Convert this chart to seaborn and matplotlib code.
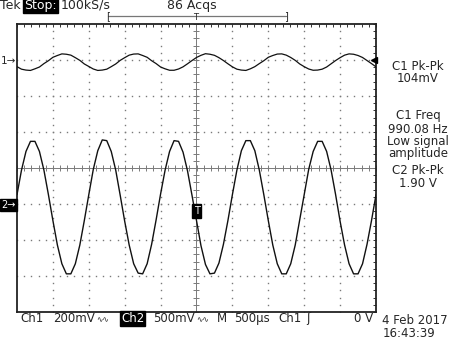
import numpy as np
import pandas as pd
import matplotlib
matplotlib.use("Agg")
import matplotlib.pyplot as plt
from matplotlib.lines import Line2D
import seaborn as sns

# scope capture: one point every 62.5 us, screen spans -2.5 .. 2.5 ms
sample_us = 62.5

# Ch1 (mV)
ch1_mv = [-37, -51, -56, -58, -49, -39, -20, -4, 15, 25, 34, 32, 27, 13, -2, -22,
          -36, -50, -58, -56, -51, -37, -22, -2, 13, 27, 33, 34, 25, 15, -4, -20,
          -39, -49, -57, -57, -50, -38, -21, -3, 14, 26, 35, 32, 26, 13, -3, -21,
          -38, -51, -56, -58, -49, -37, -20, -4, 15, 25, 33, 34, 27, 14, -2, -22,
          -37, -50, -57, -56, -51, -39, -21, -3, 13, 27, 34, 32, 25, 14, -3, -20,
          -38]

# Ch2 (V)
ch2_v = [0.13, 0.47, 0.73, 0.87, 0.87, 0.73, 0.47, 0.13, -0.23, -0.57, -0.83, -0.97, -0.97, -0.83, -0.57, -0.23,
         0.13, 0.48, 0.74, 0.89, 0.88, 0.73, 0.47, 0.12, -0.24, -0.57, -0.83, -0.96, -0.97, -0.83, -0.56, -0.22,
         0.14, 0.47, 0.73, 0.88, 0.87, 0.72, 0.46, 0.12, -0.23, -0.58, -0.84, -0.97, -0.96, -0.82, -0.56, -0.23,
         0.13, 0.47, 0.74, 0.88, 0.88, 0.74, 0.47, 0.13, -0.23, -0.57, -0.83, -0.97, -0.97, -0.83, -0.57, -0.22,
         0.13, 0.48, 0.73, 0.87, 0.87, 0.73, 0.47, 0.13, -0.24, -0.57, -0.83, -0.97, -0.97, -0.83, -0.56, -0.23,
         0.13]

ch1_mv_per_div = 200
ch2_v_per_div = 0.5
ch1_ground_div = 3
ch2_ground_div = -1

measure_lines = ["C1 Pk-Pk", "104mV", "C1 Freq", "990.08 Hz", "Low signal",
                 "amplitude", "C2 Pk-Pk", "1.90 V"]

t_ms = -2.5 + np.arange(len(ch2_v)) * sample_us / 1000.0
df = pd.DataFrame({
    "t": t_ms,
    "ch1": ch1_ground_div + np.array(ch1_mv) / ch1_mv_per_div,
    "ch2": ch2_ground_div + np.array(ch2_v) / ch2_v_per_div,
})

sns.set_style("white")
plt.rcParams["font.family"] = ["DejaVu Sans"]

W, H = 458, 345
fig = plt.figure(figsize=(W / 100, H / 100), dpi=100)
fig.patch.set_facecolor("white")
ax = fig.add_axes([17 / W, 33 / H, 359 / W, 288 / H])


def fx(x):
    return x / W


def fy(y):
    return 1 - y / H


grid_col = "#7a7a7a"
# dotted graticule
for gy in [-3, -2, -1, 1, 2, 3]:
    xs = np.arange(-2.5, 2.5001, 0.1)
    ax.plot(xs, np.full(len(xs), gy), ls="none", marker="s", ms=1.0, mew=0,
            color=grid_col, zorder=1)
for gx in [-2, -1.5, -1, -0.5, 0.5, 1, 1.5, 2]:
    ys = np.arange(-4, 4.001, 0.2)
    ax.plot(np.full(len(ys), gx), ys, ls="none", marker="s", ms=1.0, mew=0,
            color=grid_col, zorder=1)
# centre cross with minor ticks
ax.axhline(0, color=grid_col, lw=0.7, zorder=1)
ax.axvline(0, color=grid_col, lw=0.7, zorder=1)
xs = np.arange(-2.5, 2.5001, 0.1)
ax.plot(xs, np.zeros(len(xs)), ls="none", marker="|", ms=4, mew=0.7, color=grid_col, zorder=1)
ys = np.arange(-4, 4.001, 0.2)
ax.plot(np.zeros(len(ys)), ys, ls="none", marker="_", ms=4, mew=0.7, color=grid_col, zorder=1)

# traces
sns.lineplot(data=df, x="t", y="ch1", color="#111111", lw=0.9, ax=ax, zorder=3)
sns.lineplot(data=df, x="t", y="ch2", color="#111111", lw=1.0, ax=ax, zorder=3)

ax.set_xlim(-2.5, 2.5)
ax.set_ylim(-4, 4)
ax.set_xlabel("")
ax.set_ylabel("")
ax.set_xticks(np.arange(-2.5, 2.5001, 0.5))
ax.set_xticks(np.arange(-2.5, 2.5001, 0.1), minor=True)
ax.set_yticks(np.arange(-4, 4.001, 1))
ax.set_yticks(np.arange(-4, 4.001, 0.2), minor=True)
ax.tick_params(which="both", direction="in", top=True, right=True, length=2.2,
               width=0.7, color="#333333", labelbottom=False, labelleft=False)
for sp in ax.spines.values():
    sp.set_color("#222222")
    sp.set_linewidth(1.3)

# trigger level arrow and trigger point box
ax.plot([2.47], [ch1_ground_div], marker="<", ms=4.5, color="black", clip_on=False, zorder=4)
ax.text(0, -1.2, "T", ha="center", va="center", fontsize=7, color="white", zorder=5,
        bbox=dict(boxstyle="square,pad=0.2", fc="black", ec="black"))

fs = 8.5
fs_top = 9.0
# top status line
fig.text(fx(0), fy(9), "Tek", fontsize=fs_top, va="baseline")
fig.text(fx(24), fy(9), "Stop:", fontsize=fs_top, va="baseline", color="white",
         bbox=dict(boxstyle="square,pad=0.08", fc="black", ec="black"))
fig.text(fx(61), fy(9), "100kS/s", fontsize=fs_top, va="baseline")
fig.text(fx(192), fy(9), "86 Acqs", fontsize=fs_top, va="baseline", ha="center")
fig.add_artist(Line2D([fx(108), fx(286)], [fy(16), fy(16)], color="#777777", lw=0.9))
fig.text(fx(108), fy(16), "[", fontsize=7, ha="center", va="center")
fig.text(fx(286), fy(16), "]", fontsize=7, ha="center", va="center")
fig.text(fx(196), fy(18), "T", fontsize=6, ha="center", va="center")

# channel ground markers
fig.text(fx(16), fy(61), "1\u2192", fontsize=7.5, ha="right", va="center")
fig.text(fx(1), fy(205), "2\u2192", fontsize=7, ha="left", va="center", color="white",
         bbox=dict(boxstyle="square,pad=0.15", fc="black", ec="black"))

# measurement readouts
meas_y = [66, 78, 116, 129, 141, 153, 170, 183]
for txt, yy in zip(measure_lines, meas_y):
    fig.text(fx(418), fy(yy), txt, fontsize=fs, ha="center", va="center")

# bottom status line
by = 322
fig.text(fx(20), fy(by), "Ch1", fontsize=fs, va="baseline")
fig.text(fx(53), fy(by), "200mV", fontsize=fs, va="baseline")
fig.text(fx(96), fy(by), "\u223f\u223f", fontsize=5.5, va="baseline")
fig.text(fx(121), fy(by), "Ch2", fontsize=fs, va="baseline", color="white",
         bbox=dict(boxstyle="square,pad=0.1", fc="black", ec="black"))
fig.text(fx(153), fy(by), "500mV", fontsize=fs, va="baseline")
fig.text(fx(196), fy(by), "\u223f\u223f", fontsize=5.5, va="baseline")
fig.text(fx(217), fy(by), "M", fontsize=fs, va="baseline")
fig.text(fx(234), fy(by), "500\u00b5s", fontsize=fs, va="baseline")
fig.text(fx(278), fy(by), "Ch1", fontsize=fs, va="baseline")
fig.text(fx(306), fy(by), "\u0283", fontsize=fs, va="baseline")
fig.text(fx(373), fy(by), "0 V", fontsize=fs, va="baseline", ha="right")
fig.text(fx(382), fy(324), "4 Feb 2017", fontsize=fs, va="baseline")
fig.text(fx(383), fy(337), "16:43:39", fontsize=fs, va="baseline")

fig.savefig("out.png", dpi=100)
plt.close(fig)
